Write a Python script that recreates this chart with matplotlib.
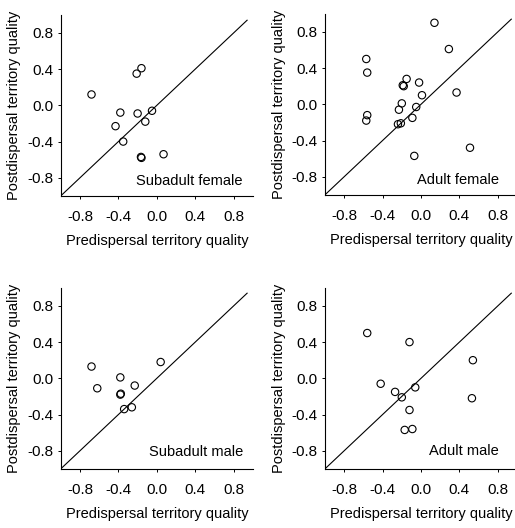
import matplotlib
matplotlib.use("Agg")
import matplotlib.pyplot as plt

plt.rcParams['font.family'] = ['Liberation Sans', 'DejaVu Sans']

# --- data ---
sf_x = [-0.68, -0.21, -0.16, -0.38, -0.05, -0.20, -0.43, -0.12, -0.35, -0.16, -0.165, 0.07]
sf_y = [0.12, 0.35, 0.41, -0.08, -0.06, -0.09, -0.23, -0.18, -0.40, -0.58, -0.57, -0.54]

af_x = [0.14, 0.29, -0.57, -0.56, -0.15, -0.02, -0.19, -0.18, 0.01, 0.37, -0.20, -0.23,
        -0.05, -0.56, -0.57, -0.09, -0.21, -0.24, -0.07, 0.51]
af_y = [0.90, 0.61, 0.50, 0.35, 0.28, 0.24, 0.21, 0.20, 0.10, 0.13, 0.01, -0.06,
        -0.03, -0.12, -0.18, -0.15, -0.21, -0.22, -0.57, -0.48]

sm_x = [-0.68, -0.62, -0.38, -0.23, -0.38, -0.375, 0.04, -0.34, -0.26]
sm_y = [0.13, -0.11, 0.01, -0.08, -0.18, -0.17, 0.18, -0.34, -0.32]

am_x = [-0.56, -0.12, 0.54, -0.42, -0.06, -0.27, -0.20, 0.53, -0.12, -0.17, -0.09]
am_y = [0.50, 0.40, 0.20, -0.06, -0.10, -0.15, -0.21, -0.22, -0.35, -0.57, -0.56]

panel_names = ["Subadult female", "Adult female", "Subadult male", "Adult male"]
label_pos = [(0.34, -0.84), (0.38, -0.84), (0.41, -0.81), (0.45, -0.80)]
ticks = [-0.8, -0.4, 0.0, 0.4, 0.8]
tick_labels = ["-0.8", "-0.4", "0.0", "0.4", "0.8"]
diag = [-1.0, 0.94]

data = [(sf_x, sf_y), (af_x, af_y), (sm_x, sm_y), (am_x, am_y)]
rects = [[0.118, 0.629, 0.373, 0.343],
         [0.631, 0.631, 0.373, 0.343],
         [0.118, 0.112, 0.373, 0.343],
         [0.631, 0.112, 0.373, 0.343]]

fig = plt.figure(figsize=(5.15, 5.28), dpi=100)

for (xs, ys), name, pos, r in zip(data, panel_names, label_pos, rects):
    ax = fig.add_axes(r)
    ax.plot(diag, diag, color='black', lw=0.8)
    ax.scatter(xs, ys, s=28, facecolors='none', edgecolors='black', linewidths=0.8, zorder=3)
    ax.text(pos[0], pos[1], name, ha='center', va='center', fontsize=10.5)
    ax.set_xlim(-1.0, 1.0)
    ax.set_ylim(-1.0, 1.0)
    ax.set_xticks(ticks)
    ax.set_xticklabels(tick_labels)
    ax.set_yticks(ticks)
    ax.set_yticklabels(tick_labels)
    ax.tick_params(labelsize=11, length=2.5, width=0.7)
    ax.tick_params(axis='x', pad=8)
    ax.tick_params(axis='y', pad=3)
    ax.spines['top'].set_visible(False)
    ax.spines['right'].set_visible(False)
    ax.spines['left'].set_linewidth(0.8)
    ax.spines['bottom'].set_linewidth(0.8)
    ax.set_xlabel('Predispersal territory quality', fontsize=10.5, labelpad=7)
    ax.set_ylabel('Postdispersal territory quality', fontsize=10.5, labelpad=4)

plt.savefig('out.png', dpi=100)
